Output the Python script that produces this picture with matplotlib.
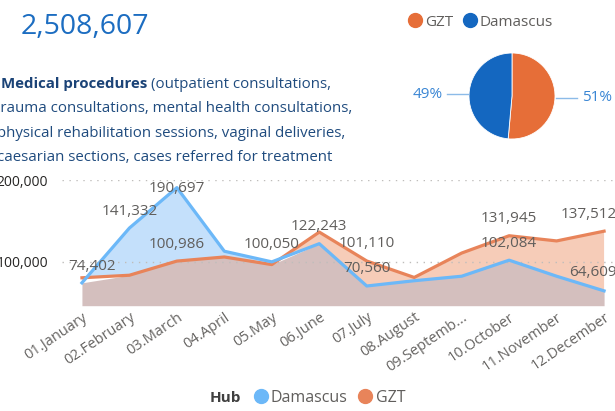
import matplotlib.pyplot as plt
import numpy as np
from matplotlib.lines import Line2D

plt.rcParams['font.family'] = ['Open Sans', 'DejaVu Sans']

W, H = 615, 411

# --------------------------------------------------
# data
# --------------------------------------------------
months = ['01.January', '02.February', '03.March', '04.April', '05.May', '06.June',
          '07.July', '08.August', '09.Septemb...', '10.October', '11.November',
          '12.December']
damascus = [74402, 141332, 190697, 113000, 100050, 122243,
            70560, 77000, 82500, 102084, 82500, 64609]
gzt = [80600, 83700, 100986, 106000, 96700, 136400,
       101110, 81000, 110800, 131945, 125600, 137512]
damascus_labelled = [0, 1, 2, 4, 5, 6, 9, 11]
gzt_labelled = [2, 6, 9, 11]
hubs = ['GZT', 'Damascus']
total_text = '2,508,607'
desc_bold = 'Medical procedures'
desc_lines = ['(outpatient consultations,',
              'trauma consultations, mental health consultations,',
              'physical rehabilitation sessions, vaginal deliveries,',
              'caesarian sections, cases referred for treatment']

# colours
DAM_LINE, GZT_LINE = '#6cb8f8', '#e8845a'
DAM_FILL, GZT_FILL, BOTH_FILL = '#c4e0fb', '#f6ccb8', '#d4bfbe'
PIE_ORANGE, PIE_BLUE = '#e66e38', '#1467c0'
GREY = '#605e5c'


def px(x, y):
    return x / W, 1 - y / H


fig = plt.figure(figsize=(W / 100, H / 100), dpi=100)
renderer = fig.canvas.get_renderer()

# --------------------------------------------------
# headline + description
# --------------------------------------------------
fig.text(*px(21, 27), total_text, fontsize=20.5, color='#1c6dc1', va='center')

desc_color = '#1f4b7e'
t = fig.text(*px(1, 84), desc_bold, fontsize=10.8, weight='bold',
             color='#1b4377', va='center')
x_end = t.get_window_extent(renderer).x1
fig.text(*px(x_end + 4, 84), desc_lines[0], fontsize=10.8, color=desc_color, va='center')
for i, (line, x0) in enumerate(zip(desc_lines[1:], [-5, -3, -3])):
    fig.text(*px(x0, 84 + 24.6 * (i + 1)), line, fontsize=10.8,
             color=desc_color, va='center')

# --------------------------------------------------
# area chart
# --------------------------------------------------
ax = fig.add_axes([62 / W, 1 - 305.7 / H, (615 - 62) / W, (305.7 - 180) / H])
x = np.arange(len(months))
d = np.array(damascus)
g = np.array(gzt)
ax.set_xlim(-0.42, 11.23)
ax.set_ylim(46500, 200000)
y0 = ax.get_ylim()[0]

ax.fill_between(x, y0, np.minimum(d, g), color=BOTH_FILL, lw=0, zorder=1)
ax.fill_between(x, g, d, where=d >= g, interpolate=True, color=DAM_FILL, lw=0, zorder=1)
ax.fill_between(x, d, g, where=g >= d, interpolate=True, color=GZT_FILL, lw=0, zorder=1)
ax.plot(x, g, color=GZT_LINE, lw=2.3, zorder=3, solid_joinstyle='round')
ax.plot(x, d, color=DAM_LINE, lw=2.3, zorder=3, solid_joinstyle='round')

# label offsets in pixels (dx, dy upwards)
offsets = {('d', 0): (10, 16), ('d', 2): (0, -1), ('d', 11): (-11, 18), ('g', 11): (-15, 17)}
for key, vals, idx in (('d', d, damascus_labelled), ('g', g, gzt_labelled)):
    for i in idx:
        dx, dy = offsets.get((key, i), (0, 17))
        ax.annotate(f'{vals[i]:,}', (x[i], vals[i]), xytext=(dx * 0.72, dy * 0.72),
                    textcoords='offset points', ha='center', va='center',
                    fontsize=11, color=GREY, zorder=5, annotation_clip=False)

ax.set_yticks([100000, 200000])
ax.yaxis.set_major_formatter(lambda v, p: f'{v:,.0f}')
ax.yaxis.grid(True, ls=(0, (1, 4)), color='#bfbdbb', lw=1)
ax.set_axisbelow(False)
ax.tick_params(axis='y', length=0, pad=10, labelsize=10, labelcolor='#252423')
ax.set_xticks(x)
ax.set_xticklabels(months, rotation=34, ha='right', rotation_mode='anchor')
ax.tick_params(axis='x', length=0, pad=3, labelsize=10.5, labelcolor='#666462')
for s in ax.spines.values():
    s.set_visible(False)

# --------------------------------------------------
# pie
# --------------------------------------------------
r_px = 43
half = 90
pax = fig.add_axes([(512 - half) / W, 1 - (96 + half) / H, 2 * half / W, 2 * half / H])
shares = [g.sum(), d.sum()]
wedges, _ = pax.pie(shares, colors=[PIE_ORANGE, PIE_BLUE], startangle=90,
                    counterclock=False, wedgeprops=dict(edgecolor='white', lw=0.6))
lim = half / r_px
pax.set_xlim(-lim, lim)
pax.set_ylim(-lim, lim)
for w, v in zip(wedges, shares):
    mid = np.deg2rad((w.theta1 + w.theta2) / 2)
    side = np.sign(np.cos(mid))
    yy = np.sin(mid)
    pax.plot([side * 1.03, side * 1.52], [yy, yy], color='#8cbbe8', lw=1)
    pax.text(side * 1.62, yy, f'{100 * v / sum(shares):.0f}%', color='#3a86d4',
             fontsize=11, ha='left' if side > 0 else 'right', va='center')

fig.legend(
    [Line2D([], [], ls='', marker='o', markersize=10, color=c) for c in (PIE_ORANGE, PIE_BLUE)],
    hubs, loc='center left', bbox_to_anchor=px(406, 22), ncol=2, frameon=False,
    handletextpad=0.05, columnspacing=0.5, handlelength=1.2, fontsize=11,
    labelcolor=GREY, borderaxespad=0, borderpad=0)

# --------------------------------------------------
# bottom legend
# --------------------------------------------------
fig.text(*px(210, 398), 'Hub', fontsize=11, weight='bold', color='#404040', va='center')
fig.legend(
    [Line2D([], [], ls='', marker='o', markersize=10, color=c) for c in (DAM_LINE, GZT_LINE)],
    ['Damascus', 'GZT'], loc='center left', bbox_to_anchor=px(251, 398), ncol=2,
    frameon=False, handletextpad=0.05, columnspacing=0.5, handlelength=1.2,
    fontsize=11.5, labelcolor=GREY, borderaxespad=0, borderpad=0)

fig.savefig('out.png', dpi=100)
